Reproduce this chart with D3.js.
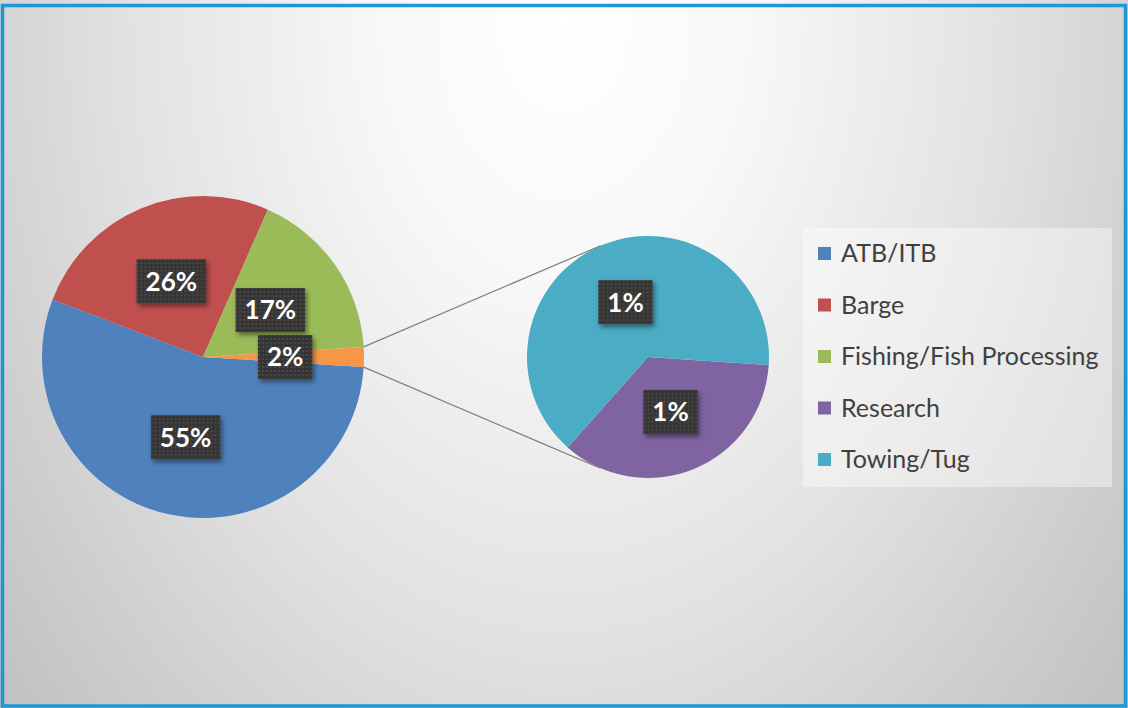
<!DOCTYPE html>
<html>
<head>
<meta charset="utf-8">
<script src="https://cdn.jsdelivr.net/npm/d3@7"></script>
<style>
  html, body { margin: 0; padding: 0; background: #fff; }
  svg { display: block; }
</style>
</head>
<body>
<svg id="chart" width="1128" height="708"></svg>
<script>
// Vessel types, share of total (%)
const mainCategories = ["ATB/ITB", "Barge", "Fishing/Fish Processing", "Other"];
const mainValues = [54.8, 25.8, 17.4, 2.0];
const otherCategories = ["Research", "Towing/Tug"];
const otherValues = [0.71, 1.29];
const legendLabels = ["ATB/ITB", "Barge", "Fishing/Fish Processing", "Research", "Towing/Tug"];
const palette = ["#4f81bd", "#c0504d", "#9bbb59", "#f79646", "#8064a2", "#4bacc6"];

const W = 1128, H = 708;
const svg = d3.select("#chart");
const defs = svg.append("defs");

// Background: soft radial light from the top centre
const bg = defs.append("radialGradient")
  .attr("id", "bgGrad")
  .attr("gradientUnits", "userSpaceOnUse")
  .attr("cx", 0).attr("cy", 0).attr("r", 1)
  .attr("gradientTransform", "translate(564,20) scale(727,1029)");
bg.append("stop").attr("offset", 0).attr("stop-color", "#ffffff");
bg.append("stop").attr("offset", 0.25).attr("stop-color", "#f8f8f8");
bg.append("stop").attr("offset", 0.6).attr("stop-color", "#e2e2e2");
bg.append("stop").attr("offset", 1).attr("stop-color", "#c2c2c2");

// Dotted texture for the label boxes
const pat = defs.append("pattern")
  .attr("id", "dots").attr("patternUnits", "userSpaceOnUse")
  .attr("width", 4).attr("height", 4);
pat.append("rect").attr("width", 4).attr("height", 4).attr("fill", "#363636");
pat.append("circle").attr("cx", 2).attr("cy", 2).attr("r", 0.8).attr("fill", "#5e5a52");

const sh = defs.append("filter").attr("id", "boxShadow")
  .attr("x", "-20%").attr("y", "-20%").attr("width", "150%").attr("height", "160%");
sh.append("feDropShadow").attr("dx", 2).attr("dy", 3).attr("stdDeviation", 2.5)
  .attr("flood-color", "#000").attr("flood-opacity", 0.45);

svg.append("rect").attr("x", 0).attr("y", 0).attr("width", W).attr("height", H)
  .attr("fill", "url(#bgGrad)");

// Frame
svg.append("rect")
  .attr("x", 2.5).attr("y", 5.5).attr("width", W - 5).attr("height", H - 7.5)
  .attr("fill", "none").attr("stroke", "#1b98d5").attr("stroke-width", 3.5);

const color = d3.scaleOrdinal()
  .domain(mainCategories.concat(otherCategories))
  .range(palette);

// ---- main pie ----
const main = { cx: 203, cy: 357, r: 161 };
const otherShare = mainValues[3] / d3.sum(mainValues) * 2 * Math.PI;
const mainStart = Math.PI / 2 + otherShare / 2;
const mainPie = d3.pie().sort(null).value(d => d.v)
  .startAngle(mainStart).endAngle(mainStart + 2 * Math.PI);
const mainArcs = mainPie(mainCategories.map((c, i) => ({ c, v: mainValues[i] })));
const mainArc = d3.arc().innerRadius(0).outerRadius(main.r);

const gMain = svg.append("g").attr("transform", `translate(${main.cx},${main.cy})`);
gMain.selectAll("path").data(mainArcs).join("path")
  .attr("d", mainArc).attr("fill", d => color(d.data.c));

// ---- secondary pie ----
const sec = { cx: 648, cy: 357, r: 121 };
const secStart = (90 + 3.8) * Math.PI / 180;
const secPie = d3.pie().sort(null).value(d => d.v)
  .startAngle(secStart).endAngle(secStart + 2 * Math.PI);
const secArcs = secPie(otherCategories.map((c, i) => ({ c, v: otherValues[i] })));
const secArc = d3.arc().innerRadius(0).outerRadius(sec.r);

const gSec = svg.append("g").attr("transform", `translate(${sec.cx},${sec.cy})`);
gSec.selectAll("path").data(secArcs).join("path")
  .attr("d", secArc).attr("fill", d => color(d.data.c));

// ---- connector lines from the "Other" wedge to the secondary pie ----
const otherArc = mainArcs[3];
function polar(cx, cy, r, a) { return [cx + r * Math.sin(a), cy - r * Math.cos(a)]; }
function tangent(p, upper) {
  const dx = p[0] - sec.cx, dy = p[1] - sec.cy;
  const dist = Math.hypot(dx, dy);
  const th = Math.atan2(dy, dx), al = Math.acos(sec.r / dist);
  const c1 = [sec.cx + sec.r * Math.cos(th + al), sec.cy + sec.r * Math.sin(th + al)];
  const c2 = [sec.cx + sec.r * Math.cos(th - al), sec.cy + sec.r * Math.sin(th - al)];
  return upper ? (c1[1] < c2[1] ? c1 : c2) : (c1[1] > c2[1] ? c1 : c2);
}
const pA = polar(main.cx, main.cy, main.r, otherArc.startAngle);
const pB = polar(main.cx, main.cy, main.r, otherArc.endAngle);
const pTopEnd = pA[1] < pB[1] ? pA : pB;
const pBotEnd = pA[1] < pB[1] ? pB : pA;
[[pTopEnd, tangent(pTopEnd, true)], [pBotEnd, tangent(pBotEnd, false)]].forEach(([a, b]) => {
  svg.append("line")
    .attr("x1", a[0]).attr("y1", a[1]).attr("x2", b[0]).attr("y2", b[1])
    .attr("stroke", "#808080").attr("stroke-width", 1.2);
});

// ---- data labels ----
const total = d3.sum(mainValues);
function drawLabel(g, x, y, value) {
  const lg = g.append("g").attr("transform", `translate(${x},${y})`);
  const rect = lg.append("rect").attr("fill", "url(#dots)").attr("filter", "url(#boxShadow)");
  const t = lg.append("text")
    .attr("text-anchor", "middle").attr("dy", "0.36em")
    .attr("font-family", "Lato, 'Open Sans', sans-serif")
    .attr("font-weight", 700).attr("font-size", 26)
    .attr("fill", "#ffffff")
    .text(Math.round(value / total * 100) + "%");
  const w = t.node().getComputedTextLength() + 18;
  rect.attr("x", -w / 2).attr("y", -22).attr("width", w).attr("height", 44);
}
const labelArcMain = d3.arc().innerRadius(main.r * 0.51).outerRadius(main.r * 0.51);
mainArcs.forEach(d => {
  const [x, y] = labelArcMain.centroid(d);
  drawLabel(gMain, x, y, d.data.v);
});
const labelArcSec = d3.arc().innerRadius(sec.r * 0.49).outerRadius(sec.r * 0.49);
secArcs.forEach(d => {
  const [x, y] = labelArcSec.centroid(d);
  drawLabel(gSec, x, y, d.data.v);
});

// ---- legend ----
const legend = svg.append("g");
legend.append("rect")
  .attr("x", 803).attr("y", 228).attr("width", 309).attr("height", 259)
  .attr("fill", "#ffffff").attr("fill-opacity", 0.4);
const rowY = d3.scalePoint().domain(legendLabels).range([253, 459]);
const rows = legend.selectAll("g.row").data(legendLabels).join("g")
  .attr("class", "row")
  .attr("transform", d => `translate(818,${rowY(d)})`);
rows.append("rect")
  .attr("x", 0).attr("y", -6).attr("width", 13).attr("height", 13)
  .attr("fill", d => color(d));
rows.append("text")
  .attr("x", 23).attr("dy", "0.36em")
  .attr("font-family", "Lato, 'Open Sans', sans-serif")
  .attr("font-size", 25).attr("fill", "#404040")
  .text(d => d);
</script>
</body>
</html>
